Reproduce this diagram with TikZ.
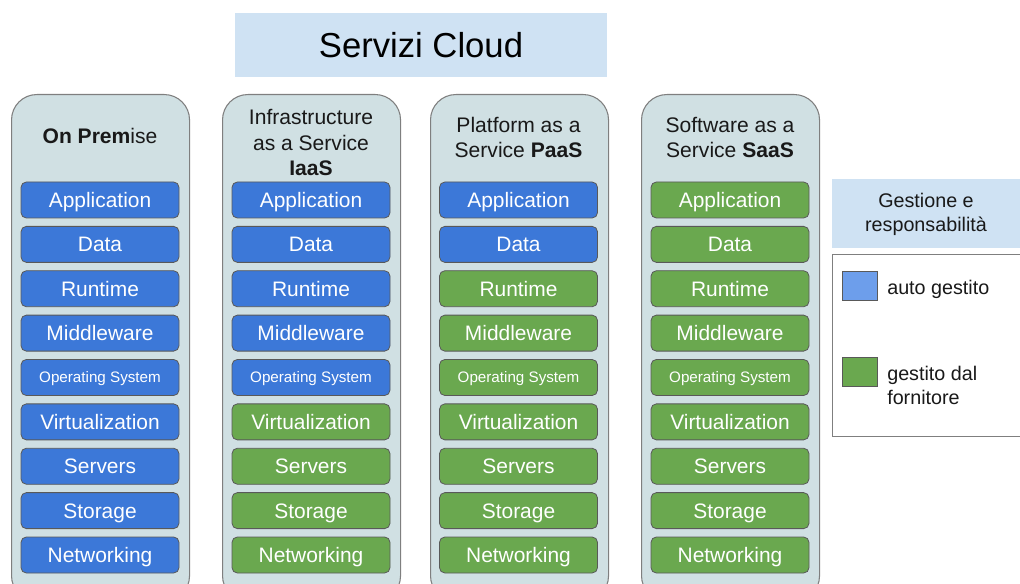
\documentclass[tikz,border=0pt]{standalone}
\usepackage{fontspec}
\setmainfont{Liberation Sans}
\definecolor{colfill}{HTML}{D0E0E3}
\definecolor{colborder}{HTML}{7F7F7F}
\definecolor{titlefill}{HTML}{CFE2F3}
\definecolor{selfblue}{HTML}{3C78D8}
\definecolor{provgreen}{HTML}{6AA84F}
\definecolor{legblue}{HTML}{6D9EEB}
\definecolor{layerborder}{HTML}{595959}
\begin{document}
\begin{tikzpicture}[x=0.75pt,y=-0.75pt,
  titlebox/.style={fill=titlefill,draw=none,minimum width=279pt,minimum height=48pt,font=\fontsize{26}{30}\selectfont},
  column/.style={fill=colfill,draw=colborder,line width=0.8pt,rounded corners=19pt,minimum width=133.5pt,minimum height=380pt,anchor=north west,inner sep=0pt},
  header/.style={align=center,font=\fontsize{15.8}{19.2}\selectfont,text=black!90},
  layer/.style={draw=layerborder,line width=0.6pt,rounded corners=4pt,minimum width=118.5pt,minimum height=27pt,inner sep=0pt,text=white,text depth=0pt},
  legbox/.style={draw=colborder,line width=0.7pt,fill=white,minimum width=150pt,minimum height=136.5pt,anchor=north west,inner sep=0pt},
  legsq/.style={draw=layerborder,line width=0.5pt,minimum width=26.25pt,minimum height=21.75pt,inner sep=0pt},
  legtext/.style={anchor=west,align=left,inner xsep=0pt,font=\fontsize{14.8}{18}\selectfont,text=black!90}
]
\useasboundingbox (0,0) rectangle (1020,584);
\clip (0,0) rectangle (1020,584);

\node[titlebox] (title) at (421,45) {Servizi Cloud};

\node[column] (c1) at (11,94) {};
\node[column] (c2) at (222,94) {};
\node[column] (c3) at (430,94) {};
\node[column] (c4) at (641,94) {};

\node[header] (h1) at (100,136) {\textbf{On Prem}ise};
\node[header] (h2) at (311,142.5) {Infrastructure\\as a Service\\\textbf{IaaS}};
\node[header] (h3) at (518.5,137.5) {Platform as a\\Service \textbf{PaaS}};
\node[header] (h4) at (730,137.5) {Software as a\\Service \textbf{SaaS}};

\foreach \c/\x/\nb in {1/100/9, 2/311/5, 3/518.5/2, 4/730/0}{
  \foreach \t [count=\r] in {Application,Data,Runtime,Middleware,Operating System,Virtualization,Servers,Storage,Networking}{
    \pgfmathsetmacro{\yy}{200+44.375*(\r-1)}
    \ifnum\r>\nb \def\fc{provgreen}\else\def\fc{selfblue}\fi
    \ifnum\r=5 \def\fs{\fontsize{11.4}{13}\selectfont}\def\th{8.2pt}\else\def\fs{\fontsize{15.7}{18}\selectfont}\def\th{11.2pt}\fi
    \node[layer,fill=\fc,font=\fs,text height=\th] (L\c-\r) at (\x,\yy) {\t};
  }
}

\node[fill=titlefill,minimum width=141pt,minimum height=51.75pt,inner sep=0pt,anchor=north west] (leghead) at (832,179) {};
\node[align=center,font=\fontsize{14.8}{18}\selectfont,text=black!90] (legtitle) at (926,214) {Gestione e\\responsabilità};
\node[legbox] (legend) at (832,254) {};
\node[legsq,fill=legblue] (sqblue) at (859.5,285.5) {};
\node[legtext] (tblue) at (887,289) {auto gestito};
\node[legsq,fill=provgreen] (sqgreen) at (859.5,371.5) {};
\node[legtext] (tgreen) at (887,385) {gestito dal\\fornitore};
\end{tikzpicture}
\end{document}
